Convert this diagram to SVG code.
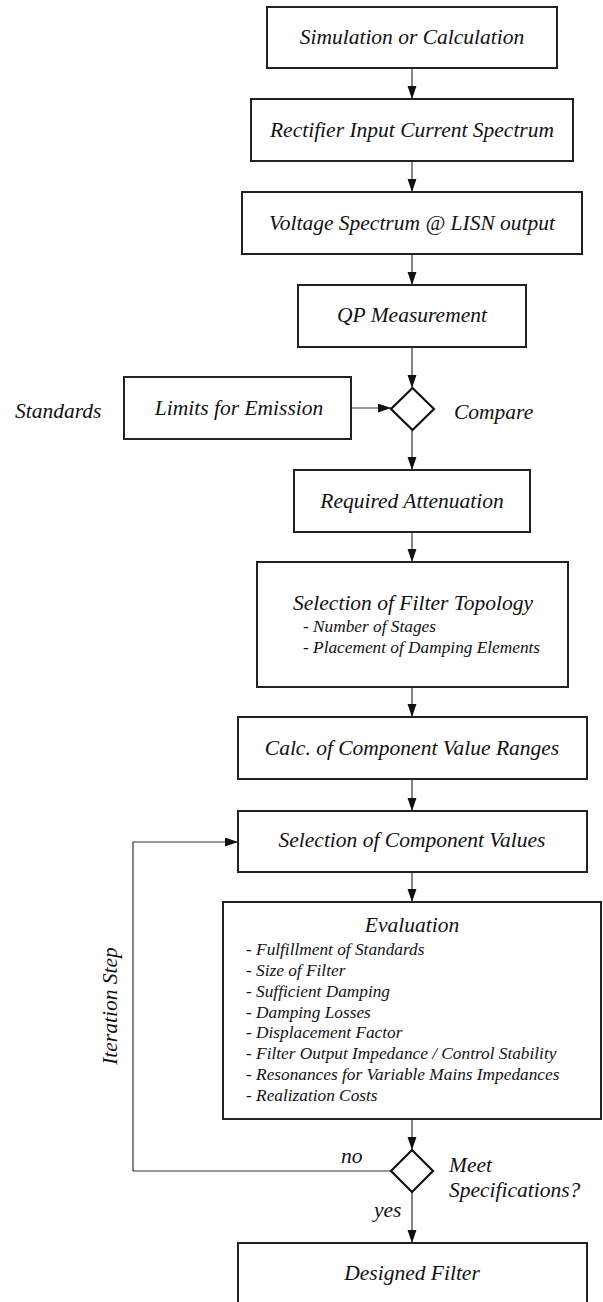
<svg xmlns="http://www.w3.org/2000/svg" width="603" height="1302" viewBox="0 0 603 1302">
<style>
  .box { fill: #fff; stroke: #222; stroke-width: 2; }
  .dia { fill: #fff; stroke: #111; stroke-width: 2.2; }
  .t { font-family: "Liberation Serif", "Times New Roman", serif; font-style: italic; font-size: 21.5px; fill: #111; }
  .c { text-anchor: middle; }
  .s { font-family: "Liberation Serif", "Times New Roman", serif; font-style: italic; font-size: 17.3px; fill: #111; }
  .con { fill: none; stroke: #333; stroke-width: 1.2; }
</style>
<defs>
  <marker id="arr" markerUnits="userSpaceOnUse" markerWidth="14" markerHeight="10" refX="13" refY="4.5" orient="auto">
    <path d="M0,0 L13,4.5 L0,9 z" fill="#111"/>
  </marker>
</defs>
<rect width="603" height="1302" fill="#fff"/>

<g id="connectors">
  <line class="con" x1="412" y1="68" x2="412" y2="99" marker-end="url(#arr)"/>
  <line class="con" x1="412" y1="161" x2="412" y2="192" marker-end="url(#arr)"/>
  <line class="con" x1="412" y1="254" x2="412" y2="285" marker-end="url(#arr)"/>
  <line class="con" x1="412" y1="347" x2="412" y2="388" marker-end="url(#arr)"/>
  <line class="con" x1="351" y1="408" x2="391" y2="408" marker-end="url(#arr)"/>
  <line class="con" x1="412" y1="430" x2="412" y2="470" marker-end="url(#arr)"/>
  <line class="con" x1="412" y1="532" x2="412" y2="562" marker-end="url(#arr)"/>
  <line class="con" x1="412" y1="687" x2="412" y2="717" marker-end="url(#arr)"/>
  <line class="con" x1="412" y1="779" x2="412" y2="811" marker-end="url(#arr)"/>
  <line class="con" x1="412" y1="872" x2="412" y2="902" marker-end="url(#arr)"/>
  <line class="con" x1="412" y1="1119" x2="412" y2="1150" marker-end="url(#arr)"/>
  <line class="con" x1="412" y1="1192" x2="412" y2="1243" marker-end="url(#arr)"/>
  <polyline class="con" points="391,1171 133,1171 133,842 238,842" marker-end="url(#arr)"/>
  <text class="t" x="341" y="1163">no</text>
  <text class="t" x="374" y="1217">yes</text>
  <text class="t c" transform="translate(117,1006) rotate(-90)">Iteration Step</text>
</g>

<g id="n-simulation">
  <rect class="box" x="267" y="7" width="290" height="61"/>
  <text class="t c" x="412" y="44">Simulation or Calculation</text>
</g>
<g id="n-rectifier">
  <rect class="box" x="251" y="99" width="322" height="62"/>
  <text class="t c" x="412" y="137">Rectifier Input Current Spectrum</text>
</g>
<g id="n-voltage">
  <rect class="box" x="242" y="192" width="340" height="62"/>
  <text class="t c" x="412" y="230">Voltage Spectrum @ LISN output</text>
</g>
<g id="n-qp">
  <rect class="box" x="298" y="285" width="228" height="62"/>
  <text class="t c" x="412" y="322">QP Measurement</text>
</g>
<g id="n-standards">
  <text class="t" x="15" y="418">Standards</text>
</g>
<g id="n-limits">
  <rect class="box" x="124" y="377" width="227" height="62"/>
  <text class="t c" x="239" y="415">Limits for Emission</text>
</g>
<g id="n-compare">
  <polygon class="dia" points="412.5,388 434,409 412.5,430 391,409"/>
  <text class="t" x="454" y="419">Compare</text>
</g>
<g id="n-required">
  <rect class="box" x="294" y="470" width="236" height="62"/>
  <text class="t c" x="412" y="508">Required Attenuation</text>
</g>
<g id="n-topology">
  <rect class="box" x="257" y="562" width="311" height="125"/>
  <text class="t c" x="413" y="610">Selection of Filter Topology</text>
  <text class="s" x="303" y="632">- Number of Stages</text>
  <text class="s" x="303" y="653">- Placement of Damping Elements</text>
</g>
<g id="n-calc">
  <rect class="box" x="238" y="717" width="349" height="62"/>
  <text class="t c" x="412" y="755">Calc. of Component Value Ranges</text>
</g>
<g id="n-selection">
  <rect class="box" x="238" y="811" width="349" height="61"/>
  <text class="t c" x="412" y="847">Selection of Component Values</text>
</g>
<g id="n-evaluation">
  <rect class="box" x="223" y="902" width="378" height="217"/>
  <text class="t c" x="412" y="932">Evaluation</text>
  <text class="s" x="246" y="955">- Fulfillment of Standards</text>
  <text class="s" x="246" y="976">- Size of Filter</text>
  <text class="s" x="246" y="997">- Sufficient Damping</text>
  <text class="s" x="246" y="1018">- Damping Losses</text>
  <text class="s" x="246" y="1038">- Displacement Factor</text>
  <text class="s" x="246" y="1059">- Filter Output Impedance / Control Stability</text>
  <text class="s" x="246" y="1080">- Resonances for Variable Mains Impedances</text>
  <text class="s" x="246" y="1101">- Realization Costs</text>
</g>
<g id="n-meet">
  <polygon class="dia" points="412,1150 433,1171 412,1192 391,1171"/>
  <text class="t" x="449" y="1172">Meet</text>
  <text class="t" x="449" y="1197">Specifications?</text>
</g>
<g id="n-designed">
  <rect class="box" x="238" y="1243" width="349" height="80"/>
  <text class="t c" x="412" y="1280">Designed Filter</text>
</g>
</svg>
